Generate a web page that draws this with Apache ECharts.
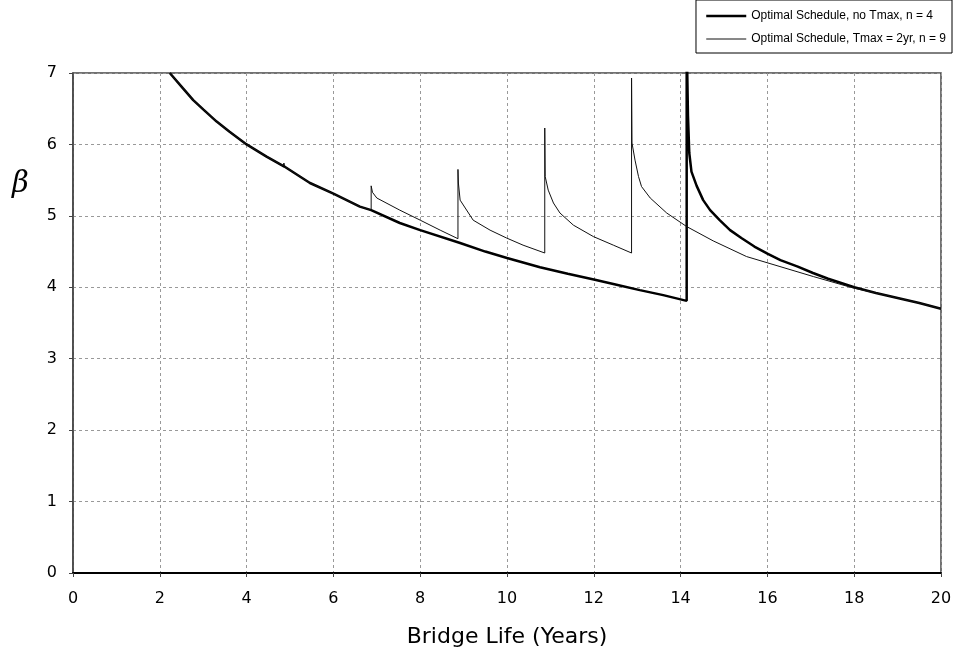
<!DOCTYPE html>
<html>
<head>
<meta charset="utf-8">
<title>Bridge Life</title>
<script src="https://cdn.jsdelivr.net/npm/echarts@6/dist/echarts.min.js"></script>
<style>
    html, body { margin: 0; padding: 0; background: #fff; }
    #chart { width: 957px; height: 653px; }
</style>
</head>
<body>
<div id="chart"></div>
<script>
// values
var legendNames = ['Optimal Schedule, no Tmax, n = 4', 'Optimal Schedule, Tmax = 2yr, n = 9'];
var xTicks = [0, 2, 4, 6, 8, 10, 12, 14, 16, 18, 20];
var yTicks = [0, 1, 2, 3, 4, 5, 6, 7];

var thickX = [2.23, 2.5, 2.77, 3.0, 3.31, 3.6, 4.0, 4.46, 4.87, 5.46, 6.0, 6.61, 6.87, 7.53, 8.0, 8.92, 9.5, 10.0, 10.76, 11.4, 12.0, 12.5, 13.06, 13.6, 14.14,
    14.14, 14.17, 14.2, 14.25, 14.37, 14.52, 14.68, 14.9, 15.14, 15.4, 15.7, 16.0, 16.3, 16.7, 17.05, 17.4, 18.0, 18.5, 19.0, 19.5, 20.0];
var thickY = [7.0, 6.81, 6.62, 6.49, 6.32, 6.18, 6.0, 5.83, 5.69, 5.46, 5.31, 5.13, 5.08, 4.90, 4.80, 4.62, 4.50, 4.41, 4.28, 4.19, 4.11, 4.04, 3.96, 3.89, 3.81,
    7.5, 6.4, 5.88, 5.62, 5.42, 5.22, 5.08, 4.94, 4.80, 4.69, 4.57, 4.47, 4.38, 4.29, 4.20, 4.12, 4.0, 3.92, 3.85, 3.78, 3.70];

var thinX = [2.23, 2.5, 2.77, 3.0, 3.31, 3.6, 4.0, 4.46, 4.84, 4.86, 4.88, 5.46, 6.0, 6.61, 6.87,
    6.87, 6.9, 7.0, 7.53, 8.0, 8.46, 8.87,
    8.87, 8.88, 8.92, 9.22, 9.61, 9.99, 10.37, 10.87,
    10.87, 10.88, 10.95, 11.07, 11.22, 11.53, 11.99, 12.45, 12.87,
    12.87, 12.88, 12.95, 13.03, 13.1, 13.3, 13.68, 14.14, 14.75, 15.52, 16.29, 17.06, 17.98, 18.5, 19.0, 19.5, 20.0];
var thinY = [7.0, 6.81, 6.62, 6.49, 6.32, 6.18, 6.0, 5.83, 5.70, 5.74, 5.69, 5.46, 5.31, 5.13, 5.08,
    5.42, 5.33, 5.25, 5.08, 4.94, 4.80, 4.68,
    5.65, 5.46, 5.22, 4.94, 4.80, 4.69, 4.59, 4.48,
    6.23, 5.55, 5.36, 5.18, 5.04, 4.87, 4.71, 4.59, 4.48,
    6.93, 6.02, 5.78, 5.55, 5.41, 5.25, 5.04, 4.85, 4.65, 4.43, 4.29, 4.15, 3.99, 3.92, 3.85, 3.78, 3.70];

function pairs(xs, ys) {
    var out = [];
    xs.forEach(function (x, i) { out.push([x, ys[i]]); });
    return out;
}

var font = 'DejaVu Sans';
var chart = echarts.init(document.getElementById('chart'));

var option = {
    animation: false,
    backgroundColor: '#fff',
    grid: {
        left: 73,
        right: 16,
        top: 73,
        bottom: 80,
        show: true,
        borderColor: '#444',
        borderWidth: 1.5
    },
    legend: {
        data: [
            { name: legendNames[0], lineStyle: { width: 2.5 } },
            { name: legendNames[1], lineStyle: { width: 1 } }
        ],
        orient: 'vertical',
        right: 5,
        top: 0,
        padding: [10, 6, 8, 9],
        itemWidth: 40,
        itemHeight: 14,
        itemGap: 11,
        borderColor: '#000',
        borderWidth: 1,
        backgroundColor: '#fff',
        itemStyle: { opacity: 0 },
        textStyle: { fontFamily: 'Liberation Sans', fontSize: 12, color: '#000' }
    },
    xAxis: {
        type: 'value',
        min: xTicks[0],
        max: xTicks[xTicks.length - 1],
        interval: 2,
        name: 'Bridge Life (Years)',
        nameLocation: 'middle',
        nameGap: 53,
        nameMoveOverlap: false,
        nameTextStyle: { fontFamily: font, fontSize: 22, color: '#000', verticalAlign: 'top' },
        axisLine: { show: true, lineStyle: { color: '#000', width: 2 } },
        axisTick: { show: true, length: 4, lineStyle: { color: '#444' } },
        axisLabel: { fontFamily: font, fontSize: 16, color: '#000', margin: 18 },
        splitLine: { show: true, lineStyle: { color: '#999', width: 1, type: [3, 3] } }
    },
    yAxis: {
        type: 'value',
        min: yTicks[0],
        max: yTicks[yTicks.length - 1],
        interval: 1,
        axisLine: { show: true, lineStyle: { color: '#444', width: 1.5 } },
        axisTick: { show: true, length: 4, lineStyle: { color: '#444' } },
        axisLabel: { fontFamily: font, fontSize: 16, color: '#000', margin: 16 },
        splitLine: { show: true, lineStyle: { color: '#999', width: 1, type: [3, 3] } }
    },
    graphic: [{
        type: 'text',
        left: 12,
        top: 170,
        style: {
            text: 'β',
            font: 'italic 29px "DejaVu Serif"',
            fill: '#000'
        }
    }],
    series: [{
        name: legendNames[0],
        type: 'line',
        symbol: 'none',
        data: pairs(thickX, thickY),
        lineStyle: { color: '#000', width: 2.5 },
        itemStyle: { color: '#000' }
    }, {
        name: legendNames[1],
        type: 'line',
        symbol: 'none',
        data: pairs(thinX, thinY),
        lineStyle: { color: '#111', width: 1 },
        itemStyle: { color: '#111' }
    }]
};

chart.setOption(option);
window.addEventListener('resize', function () {
    chart.resize();
});
</script>
</body>
</html>
